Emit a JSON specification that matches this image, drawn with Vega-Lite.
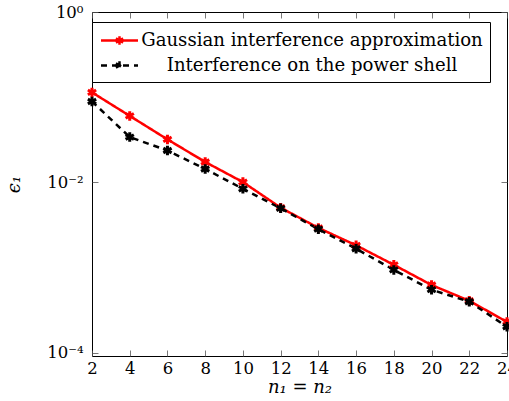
{
  "$schema": "https://vega.github.io/schema/vega-lite/v6.json",
  "width": 415,
  "height": 344,
  "autosize": "none",
  "padding": {"left": 92, "top": 12, "right": 2, "bottom": 45},
  "background": "white",
  "config": {
    "view": {"stroke": "black", "strokeWidth": 1},
    "font": "DejaVu Serif",
    "axis": {
      "domain": false,
      "grid": false,
      "tickSize": -6,
      "tickColor": "#555555",
      "tickWidth": 0.8,
      "labelFlush": false,
      "labelFont": "DejaVu Serif",
      "labelFontSize": 16.5,
      "labelColor": "black",
      "titleFont": "DejaVu Serif",
      "titleFontSize": 18,
      "titleFontStyle": "italic",
      "titleFontWeight": "normal",
      "titleColor": "black"
    }
  },
  "data": {
    "values": [
      {"n": 2, "eps": 0.114, "series": "Gaussian interference approximation"},
      {"n": 4, "eps": 0.0604, "series": "Gaussian interference approximation"},
      {"n": 6, "eps": 0.032, "series": "Gaussian interference approximation"},
      {"n": 8, "eps": 0.0174, "series": "Gaussian interference approximation"},
      {"n": 10, "eps": 0.0101, "series": "Gaussian interference approximation"},
      {"n": 12, "eps": 0.00506, "series": "Gaussian interference approximation"},
      {"n": 14, "eps": 0.00293, "series": "Gaussian interference approximation"},
      {"n": 16, "eps": 0.00183, "series": "Gaussian interference approximation"},
      {"n": 18, "eps": 0.00108, "series": "Gaussian interference approximation"},
      {"n": 20, "eps": 0.000626, "series": "Gaussian interference approximation"},
      {"n": 22, "eps": 0.000409, "series": "Gaussian interference approximation"},
      {"n": 24, "eps": 0.000231, "series": "Gaussian interference approximation"},
      {"n": 2, "eps": 0.0892, "series": "Interference on the power shell"},
      {"n": 4, "eps": 0.0341, "series": "Interference on the power shell"},
      {"n": 6, "eps": 0.0237, "series": "Interference on the power shell"},
      {"n": 8, "eps": 0.0144, "series": "Interference on the power shell"},
      {"n": 10, "eps": 0.00841, "series": "Interference on the power shell"},
      {"n": 12, "eps": 0.00497, "series": "Interference on the power shell"},
      {"n": 14, "eps": 0.00283, "series": "Interference on the power shell"},
      {"n": 16, "eps": 0.00167, "series": "Interference on the power shell"},
      {"n": 18, "eps": 0.000942, "series": "Interference on the power shell"},
      {"n": 20, "eps": 0.000552, "series": "Interference on the power shell"},
      {"n": 22, "eps": 0.000398, "series": "Interference on the power shell"},
      {"n": 24, "eps": 0.000203, "series": "Interference on the power shell"}
    ]
  },
  "layer": [
    {
      "mark": {"type": "line", "strokeWidth": 2.5, "clip": true},
      "encoding": {
        "x": {
          "field": "n", "type": "quantitative",
          "scale": {"domain": [2, 24], "nice": false, "zero": false},
          "axis": {"orient": "bottom", "values": [2,4,6,8,10,12,14,16,18,20,22,24], "title": "n₁ = n₂", "labelPadding": 10, "titlePadding": 2, "format": "d"}
        },
        "y": {
          "field": "eps", "type": "quantitative",
          "scale": {"type": "log", "domain": [0.000092, 1], "nice": false},
          "axis": {"orient": "left", "values": [1, 0.01, 0.0001], "title": "ϵ₁", "labelPadding": 15, "titlePadding": 23,
            "labelExpr": "datum.value > 0.5 ? '10⁰' : datum.value > 0.001 ? '10⁻²' : '10⁻⁴'"}
        },
        "color": {
          "field": "series", "type": "nominal",
          "scale": {"domain": ["Gaussian interference approximation", "Interference on the power shell"], "range": ["#ff0000", "#000000"]},
          "legend": {
            "title": null,
            "orient": "none",
            "legendX": 0,
            "legendY": 10,
            "padding": 7,
            "strokeColor": "black",
            "fillColor": "white",
            "symbolType": "M-1.85,0L1.85,0M0,-0.42L0,0.42M-0.36,-0.21L0.36,0.21M-0.36,0.21L0.36,-0.21",
            "symbolSize": 400,
            "symbolStrokeWidth": 2.5,
            "symbolOffset": 9,
            "labelFont": "DejaVu Serif",
            "labelFontSize": 18.1,
            "labelAlign": "center",
            "labelOffset": 181,
            "labelLimit": 0,
            "rowPadding": 4
          }
        },
        "strokeDash": {
          "field": "series", "type": "nominal",
          "scale": {"domain": ["Gaussian interference approximation", "Interference on the power shell"], "range": [[1, 0], [6, 5]]},
          "legend": null
        }
      }
    },
    {
      "mark": {"type": "point", "shape": "M0,-1L0,1M-0.87,-0.5L0.87,0.5M-0.87,0.5L0.87,-0.5", "filled": false, "size": 90, "strokeWidth": 3, "opacity": 1},
      "encoding": {
        "x": {
          "field": "n", "type": "quantitative",
          "axis": {"orient": "top", "values": [2,4,6,8,10,12,14,16,18,20,22,24], "labels": false, "title": null}
        },
        "y": {
          "field": "eps", "type": "quantitative",
          "axis": {"orient": "right", "values": [1, 0.01, 0.0001], "labels": false, "title": null}
        },
        "color": {"field": "series", "type": "nominal", "legend": null}
      }
    }
  ],
  "resolve": {"axis": {"x": "independent", "y": "independent"}}
}
